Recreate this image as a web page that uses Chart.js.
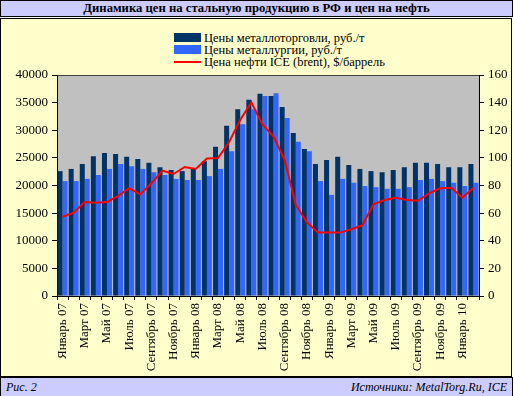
<!DOCTYPE html>
<html>
<head>
<meta charset="utf-8">
<script src="https://cdn.jsdelivr.net/npm/chart.js@4"></script>
<style>
  html, body { margin: 0; padding: 0; background: #ffffff; }
  body { width: 513px; height: 396px; position: relative; overflow: hidden;
         font-family: "Liberation Serif", "Times New Roman", serif; color: #000; }
  #title { position: absolute; left: 0; top: 0; width: 511px; height: 15px; background: #ccccff;
           border: 1px solid #000; text-align: center; font-weight: bold; font-size: 12.7px; line-height: 15px; }
  #panel { position: absolute; left: 0; top: 18px; width: 510px; height: 357px; background: #ffffcc;
           border: 1px solid #000; }
  #footer { position: absolute; left: 0; top: 377px; width: 511px; height: 18px; background: #ccccff;
            border: 1px solid #000; font-style: italic; font-size: 12px; line-height: 18px; }
  #footer .l { position: absolute; left: 5px; }
  #footer .r { position: absolute; right: 5px; }
  #legend { position: absolute; left: 174px; top: 32px; font-size: 12.5px; }
  .item { height: 12px; line-height: 12px; position: relative; white-space: nowrap; }
  .sw { position: absolute; left: 0; width: 27px; }
  .item span.t { position: absolute; left: 30px; top: 0; }
  canvas { position: absolute; left: 0; top: 0; }
</style>
</head>
<body>
<div id="title">Динамика цен на стальную продукцию в РФ и цен на нефть</div>
<div id="panel"></div>
<div id="legend"></div>
<div id="footer"><span class="l">Рис. 2</span><span class="r">Источники: MetalTorg.Ru, ICE</span></div>
<canvas id="chart" width="513" height="396"></canvas>
<script>
const months = [
  "Январь 07", "Февраль 07", "Март 07", "Апрель 07", "Май 07", "Июнь 07",
  "Июль 07", "Август 07", "Сентябрь 07", "Октябрь 07", "Ноябрь 07", "Декабрь 07",
  "Январь 08", "Февраль 08", "Март 08", "Апрель 08", "Май 08", "Июнь 08",
  "Июль 08", "Август 08", "Сентябрь 08", "Октябрь 08", "Ноябрь 08", "Декабрь 08",
  "Январь 09", "Февраль 09", "Март 09", "Апрель 09", "Май 09", "Июнь 09",
  "Июль 09", "Август 09", "Сентябрь 09", "Октябрь 09", "Ноябрь 09", "Декабрь 09",
  "Январь 10", "Февраль 10"
];

// руб./т
const tradePrices = [
  22600, 23000, 23900, 25300, 25900, 25700, 25200, 24800, 24100, 23300, 22800, 22600,
  23000, 24400, 27000, 30800, 33800, 35500, 36600, 36200, 34200, 29500, 26600, 23900,
  24600, 25200, 23700, 23000, 22600, 22400, 22800, 23300, 24100, 24100, 23900, 23300,
  23300, 23900
];
const millPrices = [
  20800, 20800, 21200, 21900, 23000, 23900, 23500, 23000, 22400, 21900, 21200, 21000,
  21000, 21700, 23000, 26200, 31100, 33800, 36200, 36700, 32200, 27900, 26200, 20800,
  18300, 21200, 20500, 19900, 19700, 19400, 19400, 19700, 21000, 21200, 20800, 20500,
  19900, 20500
];
// $/баррель
const brent = [
  57.4, 60.3, 68, 67.6, 68, 72.4, 78, 73.6, 81.6, 90.7, 88.3, 93.4,
  92, 99.6, 99.9, 111.5, 127.4, 140.3, 124.2, 115.4, 98.5, 65.9, 53.3, 45.9,
  45.9, 45.9, 48.3, 51.2, 66.4, 69.5, 71.2, 69.5, 68.9, 74.3, 78, 78.4,
  71.2, 78.4
];

const seriesNames = [
  "Цены металлоторговли, руб./т",
  "Цены металлургии, руб./т",
  "Цена нефти ICE (brent), $/баррель"
];
const colors = ["#003366", "#3366ff", "#ff0000"];

// легенда
const legend = document.getElementById("legend");
seriesNames.forEach((name, i) => {
  const row = document.createElement("div");
  row.className = "item";
  const sw = document.createElement("div");
  sw.className = "sw";
  sw.style.background = colors[i];
  if (i < 2) { sw.style.top = "1px"; sw.style.height = "9px"; }
  else { sw.style.top = "5px"; sw.style.height = "2px"; }
  const t = document.createElement("span");
  t.className = "t";
  t.textContent = name;
  row.appendChild(sw);
  row.appendChild(t);
  legend.appendChild(row);
});

const plotBg = {
  id: "plotBg",
  beforeDraw(chart) {
    const { ctx, chartArea: a } = chart;
    ctx.save();
    ctx.fillStyle = "#c0c0c0";
    ctx.fillRect(a.left, a.top, a.right - a.left, a.bottom - a.top);
    ctx.strokeStyle = "#404040";
    ctx.lineWidth = 1;
    ctx.beginPath();
    ctx.moveTo(a.left, a.top + 0.5);
    ctx.lineTo(a.right, a.top + 0.5);
    ctx.stroke();
    ctx.restore();
  }
};

const font = { family: "'Liberation Serif', 'Times New Roman', serif", size: 13 };

new Chart(document.getElementById("chart"), {
  type: "bar",
  data: {
    labels: months,
    datasets: [
      { label: seriesNames[0], data: tradePrices, backgroundColor: colors[0], yAxisID: "y", order: 1 },
      { label: seriesNames[1], data: millPrices, backgroundColor: colors[1], yAxisID: "y", order: 1 },
      { type: "line", label: seriesNames[2], data: brent, borderColor: colors[2], borderWidth: 2,
        pointRadius: 0, tension: 0, fill: false, yAxisID: "y1", order: 0 }
    ]
  },
  plugins: [plotBg],
  options: {
    responsive: false,
    animation: false,
    layout: { padding: { left: 0, right: 0, top: 75, bottom: 0 } },
    datasets: { bar: { categoryPercentage: 0.9, barPercentage: 1.0 } },
    plugins: { legend: { display: false }, tooltip: { enabled: false } },
    scales: {
      x: {
        grid: { offset: true, drawOnChartArea: false, color: "#000", tickLength: 4 },
        border: { color: "#000" },
        ticks: {
          color: "#000", font, autoSkip: false, maxRotation: 90, minRotation: 90, padding: 3,
          callback: (v, i) => (i % 2 === 0 ? months[i] : "")
        },
        afterFit: s => { s.height = 100; }
      },
      y: {
        position: "left", min: 0, max: 40000,
        ticks: { stepSize: 5000, color: "#000", font, padding: 4, callback: v => String(v) },
        grid: { drawOnChartArea: false, color: "#000", tickLength: 5 },
        border: { color: "#000" },
        afterFit: s => { s.width = 57; }
      },
      y1: {
        position: "right", min: 0, max: 160,
        ticks: { stepSize: 20, color: "#000", font, padding: 4, callback: v => String(v) },
        grid: { drawOnChartArea: false, color: "#000", tickLength: 5 },
        border: { color: "#000" },
        afterFit: s => { s.width = 34; }
      }
    }
  }
});
</script>
</body>
</html>
